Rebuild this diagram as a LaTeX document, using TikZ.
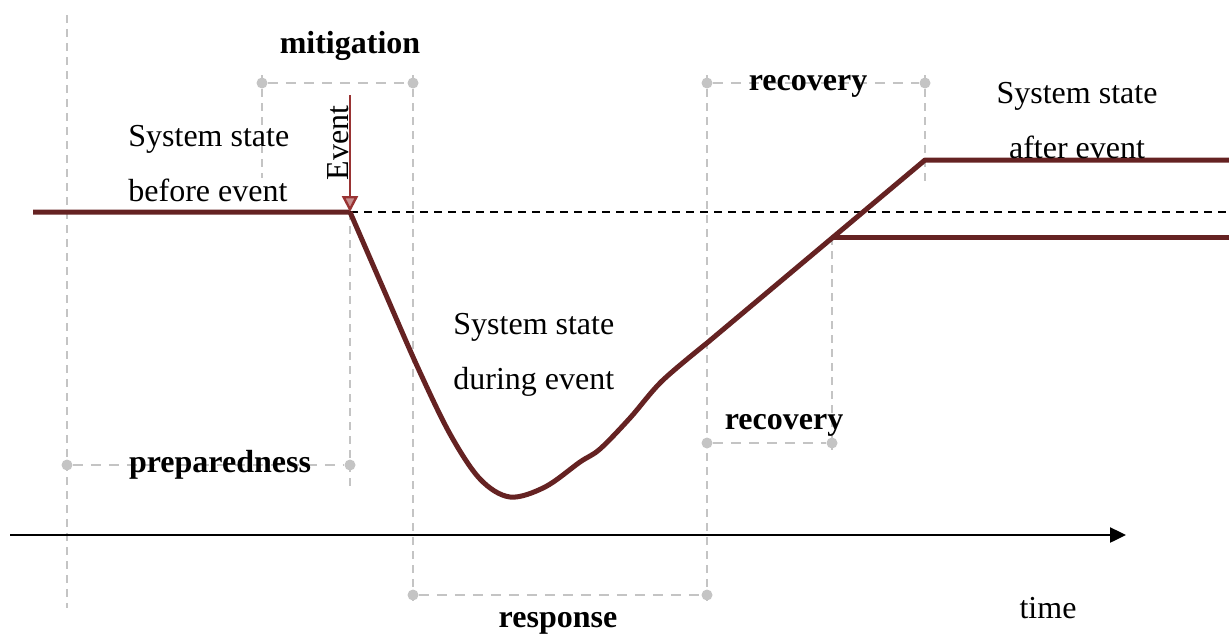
\documentclass[tikz,border=0pt]{standalone}
\usepackage{fontspec}
\setmainfont{Liberation Serif}
\usetikzlibrary{arrows.meta}
\definecolor{curvecol}{HTML}{652222}
\definecolor{eventcol}{HTML}{993333}
\definecolor{guidecol}{HTML}{C4C4C4}
\tikzset{
  guide/.style={draw=guidecol, line width=1.1pt, dash pattern=on 4pt off 3pt},
  span/.style={draw=guidecol, line width=1.1pt, dash pattern=on 5pt off 4pt},
  dot/.style={circle, fill=guidecol, inner sep=0pt, minimum size=5.5pt},
  statecurve/.style={draw=curvecol, line width=2.5pt, line join=round},
  lbl/.style={font=\fontsize{16}{27.5}\selectfont, inner sep=0pt},
  phase/.style={font=\fontsize{16}{19}\selectfont\bfseries, inner sep=0pt},
}
\begin{document}
\begin{tikzpicture}[x=0.5pt, y=-0.5pt]
\useasboundingbox (0,0) rectangle (1229,637);
% guide coordinates
\coordinate (g1t) at (67,15);   \coordinate (g1b) at (67,608);
\coordinate (g2t) at (262,75);  \coordinate (g2b) at (262,178);
\coordinate (g3t) at (350,212); \coordinate (g3b) at (350,486);
\coordinate (g4t) at (413,75);  \coordinate (g4b) at (413,602);
\coordinate (g5t) at (707,75);  \coordinate (g5b) at (707,606);
\coordinate (g6t) at (832,237); \coordinate (g6b) at (832,450);
\coordinate (g7t) at (925,75);  \coordinate (g7b) at (925,183);
\foreach \a in {1,...,7} {\draw[guide] (g\a t) -- (g\a b);}
% span dots
\node[dot] (mA) at (262,83) {};  \node[dot] (mB) at (413,83) {};
\node[dot] (rA) at (707,83) {};  \node[dot] (rB) at (925,83) {};
\node[dot] (pA) at (67,465) {};  \node[dot] (pB) at (350,465) {};
\node[dot] (sA) at (413,595) {}; \node[dot] (sB) at (707,595) {};
\node[dot] (qA) at (707,443) {}; \node[dot] (qB) at (832,443) {};
\draw[span] (mA) -- (mB);
\draw[span] (rA) -- (rB);
\draw[span] (pA) -- (pB);
\draw[span] (sA) -- (sB);
\draw[span] (qA) -- (qB);
% reference level
\coordinate (ev) at (350,212);
\coordinate (refend) at (1229,212);
\draw[black, line width=0.75pt, dash pattern=on 4pt off 3pt] (ev) -- (refend);
% time axis
\coordinate (ax0) at (10,535);
\coordinate (ax1) at (1126,535);
\draw[black, line width=1.2pt, -{Triangle[length=8pt,width=7.5pt]}] (ax0) -- (ax1);
% state curve
\coordinate (s0) at (33,212);
\coordinate (k1) at (707,343);
\coordinate (k2) at (925,160);
\coordinate (k3) at (832,237);
\coordinate (e1) at (1229,160);
\coordinate (e2) at (1229,237);
\draw[statecurve] (s0) -- (ev)
  plot[smooth, tension=0.55] coordinates {(350,212) (383,288) (418,368) (450,434) (480,479) (510,497) (545,487) (580,462) (600,449) (630,418) (662,381) (707,343)}
  -- (k2) -- (e1);
\draw[statecurve] (k3) -- (e2);
% event arrow
\coordinate (evtop) at (350,95);
\draw[eventcol, line width=1.2pt, -{Triangle[length=8pt,width=8pt,fill=eventcol!55!white]}] (evtop) -- (ev);
\node[lbl, rotate=90] (evl) at (338,143) {Event};
% texts
\node[phase] (mit) at (350,46) {mitigation};
\node[phase] (rec1) at (808,86) {recovery};
\node[phase] (rec2) at (784,425) {recovery};
\node[phase] (prep) at (220,465) {preparedness};
\node[phase] (resp) at (558,623) {response};
\node[lbl, anchor=west, align=left] (before) at (128,164) {System state\\before event};
\node[lbl, align=center] (after) at (1077,121) {System state\\after event};
\node[lbl, anchor=west, align=left] (during) at (453,355) {System state\\during event};
\node[lbl] (time) at (1048,608) {time};
\end{tikzpicture}
\end{document}
